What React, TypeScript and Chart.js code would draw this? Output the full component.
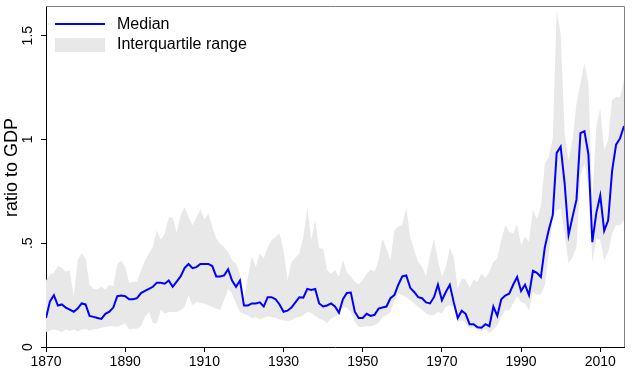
import React, { useEffect, useRef } from "react";
import { Chart, registerables } from "chart.js";

Chart.register(...registerables);

const years = [
  1870, 1871, 1872, 1873, 1874, 1875, 1876, 1877, 1878, 1879,
  1880, 1881, 1882, 1883, 1884, 1885, 1886, 1887, 1888, 1889,
  1890, 1891, 1892, 1893, 1894, 1895, 1896, 1897, 1898, 1899,
  1900, 1901, 1902, 1903, 1904, 1905, 1906, 1907, 1908, 1909,
  1910, 1911, 1912, 1913, 1914, 1915, 1916, 1917, 1918, 1919,
  1920, 1921, 1922, 1923, 1924, 1925, 1926, 1927, 1928, 1929,
  1930, 1931, 1932, 1933, 1934, 1935, 1936, 1937, 1938, 1939,
  1940, 1941, 1942, 1943, 1944, 1945, 1946, 1947, 1948, 1949,
  1950, 1951, 1952, 1953, 1954, 1955, 1956, 1957, 1958, 1959,
  1960, 1961, 1962, 1963, 1964, 1965, 1966, 1967, 1968, 1969,
  1970, 1971, 1972, 1973, 1974, 1975, 1976, 1977, 1978, 1979,
  1980, 1981, 1982, 1983, 1984, 1985, 1986, 1987, 1988, 1989,
  1990, 1991, 1992, 1993, 1994, 1995, 1996, 1997, 1998, 1999,
  2000, 2001, 2002, 2003, 2004, 2005, 2006, 2007, 2008, 2009,
  2010, 2011, 2012, 2013, 2014, 2015, 2016,
];

const median = [
  0.14, 0.22, 0.25, 0.2, 0.205, 0.19, 0.18, 0.17, 0.185, 0.21,
  0.205, 0.15, 0.145, 0.14, 0.135, 0.16, 0.17, 0.19, 0.245, 0.248,
  0.245, 0.23, 0.23, 0.235, 0.26, 0.27, 0.28, 0.29, 0.31, 0.31,
  0.305, 0.32, 0.29, 0.315, 0.34, 0.38, 0.4, 0.38, 0.385, 0.4,
  0.4, 0.4, 0.39, 0.34, 0.34, 0.345, 0.375, 0.32, 0.29, 0.32,
  0.2, 0.2, 0.21, 0.21, 0.215, 0.195, 0.24, 0.24, 0.23, 0.205,
  0.17, 0.175, 0.19, 0.215, 0.24, 0.238, 0.28, 0.275, 0.28, 0.21,
  0.195, 0.2, 0.21, 0.195, 0.165, 0.23, 0.26, 0.262, 0.17, 0.14,
  0.14, 0.16, 0.15, 0.155, 0.185, 0.19, 0.195, 0.235, 0.25, 0.3,
  0.34, 0.345, 0.285, 0.265, 0.24, 0.235, 0.215, 0.21, 0.24, 0.3,
  0.225, 0.265, 0.3, 0.215, 0.14, 0.175, 0.16, 0.11, 0.11, 0.095,
  0.093, 0.11, 0.1, 0.195, 0.15, 0.23, 0.248, 0.257, 0.3, 0.337,
  0.27, 0.3, 0.25, 0.367, 0.357, 0.337, 0.48, 0.565, 0.635, 0.935,
  0.965, 0.79, 0.54, 0.627, 0.71, 1.03, 1.04, 0.93, 0.505, 0.645,
  0.73, 0.56, 0.61, 0.85, 0.975, 1.005, 1.065,
];

const upperQ = [
  0.32, 0.35, 0.357, 0.39, 0.383, 0.362, 0.37, 0.245, 0.418, 0.453,
  0.426, 0.3, 0.28, 0.277, 0.29, 0.277, 0.3, 0.293, 0.4, 0.415,
  0.386, 0.31, 0.314, 0.314, 0.37, 0.415, 0.45, 0.482, 0.563, 0.515,
  0.547, 0.624, 0.624, 0.55, 0.635, 0.675, 0.627, 0.587, 0.624, 0.662,
  0.614, 0.643, 0.579, 0.523, 0.498, 0.482, 0.458, 0.418, 0.402, 0.35,
  0.23, 0.338, 0.437, 0.386, 0.45, 0.426, 0.482, 0.515, 0.531, 0.547,
  0.466, 0.322, 0.41, 0.43, 0.45, 0.53, 0.675, 0.515, 0.611, 0.474,
  0.474, 0.37, 0.354, 0.37, 0.338, 0.42, 0.36, 0.338, 0.314, 0.302,
  0.322, 0.354, 0.373, 0.362, 0.418, 0.523, 0.474, 0.418, 0.563, 0.582,
  0.587, 0.672, 0.531, 0.466, 0.41, 0.386, 0.341, 0.442, 0.523, 0.418,
  0.338, 0.386, 0.479, 0.434, 0.281, 0.33, 0.325, 0.286, 0.325, 0.314,
  0.354, 0.334, 0.362, 0.41, 0.426, 0.515, 0.587, 0.555, 0.547, 0.592,
  0.49, 0.534, 0.507, 0.662, 0.615, 0.675, 0.884, 0.916, 1.005, 1.624,
  1.51, 1.03, 0.9, 0.997, 1.174, 1.27, 1.367, 1.27, 0.707, 1.061,
  1.15, 0.949, 0.997, 1.19, 1.206, 1.203, 1.286,
];

const lowerQ = [
  0.072, 0.08, 0.084, 0.08, 0.072, 0.084, 0.077, 0.084, 0.076, 0.084,
  0.087, 0.08, 0.084, 0.088, 0.093, 0.096, 0.1, 0.1, 0.096, 0.105,
  0.113, 0.084, 0.088, 0.088, 0.1, 0.145, 0.169, 0.116, 0.113, 0.18,
  0.16, 0.169, 0.169, 0.169, 0.177, 0.193, 0.249, 0.201, 0.217, 0.212,
  0.209, 0.201, 0.193, 0.185, 0.177, 0.225, 0.281, 0.257, 0.209, 0.169,
  0.16, 0.153, 0.137, 0.145, 0.132, 0.141, 0.148, 0.145, 0.141, 0.132,
  0.129, 0.125, 0.129, 0.141, 0.145, 0.153, 0.169, 0.164, 0.151, 0.137,
  0.129, 0.116, 0.137, 0.145, 0.169, 0.19, 0.19, 0.169, 0.121, 0.096,
  0.096, 0.1, 0.1, 0.105, 0.116, 0.145, 0.153, 0.169, 0.225, 0.257,
  0.249, 0.241, 0.225, 0.209, 0.193, 0.18, 0.161, 0.153, 0.153, 0.169,
  0.161, 0.193, 0.201, 0.193, 0.121, 0.129, 0.116, 0.088, 0.096, 0.08,
  0.077, 0.088, 0.068, 0.084, 0.105, 0.145, 0.177, 0.177, 0.209, 0.244,
  0.217, 0.209, 0.177, 0.265, 0.253, 0.253, 0.297, 0.45, 0.627, 0.659,
  0.667, 0.547, 0.402, 0.434, 0.482, 0.82, 0.884, 0.78, 0.41, 0.523,
  0.515, 0.418, 0.458, 0.547, 0.587, 0.587, 0.611,
];

const xTicks = [1870, 1890, 1910, 1930, 1950, 1970, 1990, 2010];
const yTicks = [0, 0.5, 1, 1.5];
const yTickLabels = ["0", ".5", "1", "1.5"];
const yTitle = "ratio to GDP";
const legendLabels = ["Median", "Interquartile range"];

const FONT = "'Liberation Sans', Arial, Helvetica, sans-serif";
const BLUE = "#0000ff";
const BAND = "#e8e8e8";

const overlay = {
  id: "overlay",
  afterDraw(chart: any) {
    const { ctx, chartArea, scales } = chart;
    const ys = scales.y;
    ctx.save();
    // frame top / right
    ctx.strokeStyle = "#808080";
    ctx.lineWidth = 1;
    ctx.beginPath();
    ctx.moveTo(chartArea.left, chartArea.top + 0.5);
    ctx.lineTo(chartArea.right + 0.5, chartArea.top + 0.5);
    ctx.lineTo(chartArea.right + 0.5, chartArea.bottom);
    ctx.stroke();

    // y tick labels rotated
    ctx.fillStyle = "#000";
    ctx.font = `14px ${FONT}`;
    ctx.textAlign = "center";
    ctx.textBaseline = "middle";
    yTicks.forEach((v, i) => {
      const py = ys.getPixelForValue(v);
      ctx.save();
      ctx.translate(chartArea.left - 17.5, py);
      ctx.rotate(-Math.PI / 2);
      ctx.fillText(yTickLabels[i], 0, 0);
      ctx.restore();
    });

    // y title
    ctx.save();
    ctx.font = `18px ${FONT}`;
    ctx.translate(12, (chartArea.top + chartArea.bottom) / 2 - 9);
    ctx.rotate(-Math.PI / 2);
    ctx.fillText(yTitle, 0, 0);
    ctx.restore();

    // legend
    const lx = chartArea.left + 9;
    const lw = 50;
    ctx.strokeStyle = BLUE;
    ctx.lineWidth = 2;
    ctx.beginPath();
    ctx.moveTo(lx, chartArea.top + 18);
    ctx.lineTo(lx + lw, chartArea.top + 18);
    ctx.stroke();
    ctx.fillStyle = BAND;
    ctx.fillRect(lx, chartArea.top + 32, lw, 14);
    ctx.fillStyle = "#000";
    ctx.font = `16px ${FONT}`;
    ctx.textAlign = "left";
    ctx.textBaseline = "middle";
    ctx.fillText(legendLabels[0], lx + 62, chartArea.top + 19);
    ctx.fillText(legendLabels[1], lx + 62, chartArea.top + 39);
    ctx.restore();
  },
};

export default function App() {
  const ref = useRef<HTMLCanvasElement | null>(null);

  useEffect(() => {
    if (!ref.current) return;
    const pts = (arr: number[]) => years.map((y, i) => ({ x: y, y: arr[i] }));
    const chart = new Chart(ref.current, {
      type: "line",
      data: {
        datasets: [
          {
            label: legendLabels[0],
            data: pts(median),
            borderColor: BLUE,
            borderWidth: 2,
            pointRadius: 0,
            fill: false,
            tension: 0,
          },
          {
            label: legendLabels[1],
            data: pts(upperQ),
            borderWidth: 0,
            borderColor: BAND,
            backgroundColor: BAND,
            pointRadius: 0,
            fill: "+1",
            tension: 0,
          },
          {
            label: "lower",
            data: pts(lowerQ),
            borderWidth: 0,
            borderColor: BAND,
            pointRadius: 0,
            fill: false,
            tension: 0,
          },
        ],
      },
      options: {
        animation: false,
        responsive: false,
        maintainAspectRatio: false,
        layout: { padding: { top: 6, right: 8, left: 0, bottom: 0 } },
        plugins: { legend: { display: false }, tooltip: { enabled: false } },
        scales: {
          x: {
            type: "linear",
            min: 1870,
            max: 2016,
            afterBuildTicks: (s: any) => {
              s.ticks = xTicks.map((v) => ({ value: v }));
            },
            afterFit: (s: any) => {
              s.height = 32;
            },
            ticks: {
              autoSkip: false,
              maxRotation: 0,
              minRotation: 0,
              padding: 2,
              color: "#000",
              font: { size: 14, family: FONT },
              callback: (v: any) => String(v),
            },
            grid: {
              drawOnChartArea: false,
              drawTicks: true,
              tickLength: 5,
              color: "#000",
              tickColor: "#000",
            },
            border: { display: true, color: "#000", width: 1 },
          },
          y: {
            type: "linear",
            min: 0,
            max: 1.643,
            afterBuildTicks: (s: any) => {
              s.ticks = yTicks.map((v) => ({ value: v }));
            },
            afterFit: (s: any) => {
              s.width = 46;
            },
            ticks: { display: false },
            grid: {
              drawOnChartArea: false,
              drawTicks: true,
              tickLength: 5,
              color: "#000",
              tickColor: "#000",
            },
            border: { display: true, color: "#000", width: 1 },
          },
        },
      },
      plugins: [overlay],
    });
    return () => chart.destroy();
  }, []);

  return (
    <div style={{ position: "fixed", left: 0, top: 0, width: 632, height: 379, background: "#fff" }}>
      <canvas ref={ref} width={632} height={379} style={{ width: 632, height: 379, display: "block" }} />
    </div>
  );
}
